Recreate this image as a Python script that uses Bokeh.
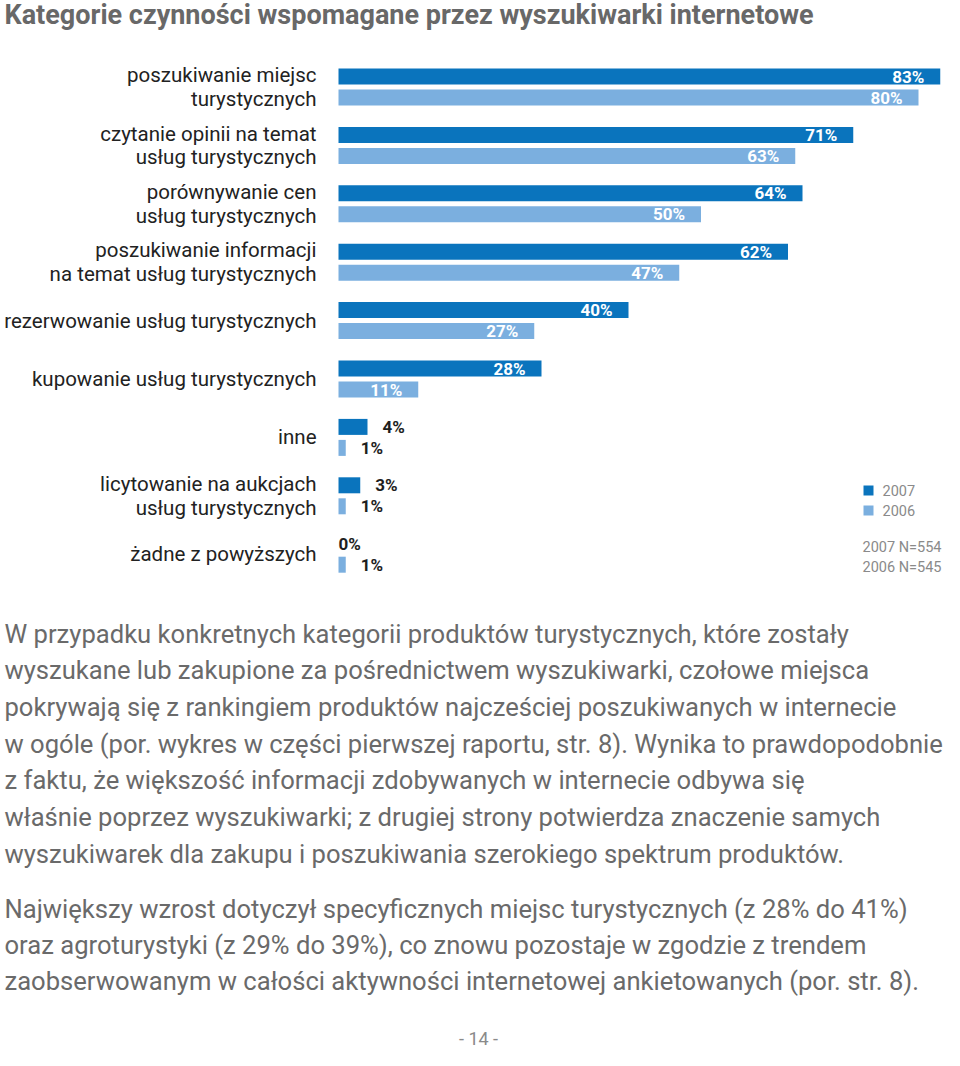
from bokeh.plotting import figure
from bokeh.models import Range1d
from bokeh.core.properties import value
from bokeh.embed import file_html
from bokeh.resources import INLINE

# ---------------- data ----------------
categories = [
    "poszukiwanie miejsc\nturystycznych",
    "czytanie opinii na temat\nusług turystycznych",
    "porównywanie cen\nusług turystycznych",
    "poszukiwanie informacji\nna temat usług turystycznych",
    "rezerwowanie usług turystycznych",
    "kupowanie usług turystycznych",
    "inne",
    "licytowanie na aukcjach\nusług turystycznych",
    "żadne z powyższych",
]
v2007 = [83, 71, 64, 62, 40, 28, 4, 3, 0]
v2006 = [80, 63, 50, 47, 27, 11, 1, 1, 1]
series = ["2007", "2006"]
sample_notes = ["2007  N=554", "2006  N=545"]

title = "Kategorie czynności wspomagane przez wyszukiwarki internetowe"
paragraph1 = [
    "W przypadku konkretnych kategorii produktów turystycznych, które zostały",
    "wyszukane lub zakupione za pośrednictwem wyszukiwarki, czołowe miejsca",
    "pokrywają się z rankingiem produktów najcześciej poszukiwanych w internecie",
    "w ogóle (por. wykres w części pierwszej raportu, str. 8). Wynika to prawdopodobnie",
    "z faktu, że większość informacji zdobywanych w internecie odbywa się",
    "właśnie poprzez wyszukiwarki; z drugiej strony potwierdza znaczenie samych",
    "wyszukiwarek dla zakupu i poszukiwania szerokiego spektrum produktów.",
]
paragraph2 = [
    "Największy wzrost dotyczył specyficznych miejsc turystycznych (z 28% do 41%)",
    "oraz agroturystyki (z 29% do 39%), co znowu pozostaje w zgodzie z trendem",
    "zaobserwowanym w całości aktywności internetowej ankietowanych (por. str. 8).",
]
page_number = "- 14 -"

# ---------------- layout / style ----------------
W, H = 944, 1050
X0 = 338.0      # pixel position of 0 %
S = 7.25        # pixels per percent
TOP = 76.0      # centre of first 2007 bar
ROW = 58.4
DODGE = 21.0
BAR_H = 16
C2007 = "#0a74bd"
C2006 = "#7bafdf"
FONT = "Roboto"
TXT_GRAY = "#6a6a6a"


def px(x):
    return (x - X0) / S


p = figure(width=W, height=H, x_range=Range1d(px(0), px(W)), y_range=Range1d(H, 0),
           x_axis_type=None, y_axis_type=None, output_backend="svg",
           toolbar_location=None, min_border=0)
p.grid.visible = False
p.outline_line_color = None
p.background_fill_color = "white"

n = len(categories)
y07 = [TOP + i * ROW for i in range(n)]
y06 = [y + DODGE for y in y07]
ymid = [y + DODGE / 2 for y in y07]

p.hbar(y=y07, left=0, right=v2007, height=BAR_H, fill_color=C2007, line_color=None)
p.hbar(y=y06, left=0, right=v2006, height=BAR_H, fill_color=C2006, line_color=None)

# category labels
p.text(x=[px(316)] * n, y=ymid, text=categories, text_align="right", text_baseline="middle",
       text_font=value(FONT), text_font_size="20.5px", text_color="#222222", text_line_height=0.98)

# value labels
for ys, vals in ((y07, v2007), (y06, v2006)):
    ins = [i for i, v in enumerate(vals) if v >= 10]
    out = [i for i, v in enumerate(vals) if v < 10]
    p.text(x=[vals[i] - 16 / S for i in ins], y=[ys[i] for i in ins],
           text=[f"{vals[i]}%" for i in ins], text_align="right", text_baseline="middle",
           text_font=value(FONT), text_font_style="bold", text_font_size="17px",
           text_color="white")
    p.text(x=[vals[i] + (15 / S if vals[i] > 0 else 0) for i in out], y=[ys[i] for i in out],
           text=[f"{vals[i]}%" for i in out], text_align="left", text_baseline="middle",
           text_font=value(FONT), text_font_style="bold", text_font_size="17px",
           text_color="#1e1e1e")

# legend
leg_y = [490, 510]
p.rect(x=[px(868)] * 2, y=leg_y, width=10 / S, height=10, fill_color=[C2007, C2006], line_color=None)
p.text(x=[px(882)] * 2, y=leg_y, text=series, text_baseline="middle", text_font=value(FONT),
       text_font_size="14.5px", text_color="#8a8a8a")
p.text(x=[px(862)] * 2, y=[547, 567], text=sample_notes, text_baseline="middle",
       text_font=value(FONT), text_font_size="14.5px", text_color="#8a8a8a")

# title
p.text(x=[px(4)], y=[14], text=[title], text_baseline="middle", text_font=value(FONT),
       text_font_style="bold", text_font_size="27px", text_color="#686868")

# paragraphs
p.text(x=[px(4)] * len(paragraph1), y=[633 + i * 36.7 for i in range(len(paragraph1))],
       text=paragraph1, text_baseline="middle", text_font=value(FONT),
       text_font_size="25.6px", text_color=TXT_GRAY)
p.text(x=[px(4)] * len(paragraph2), y=[908 + i * 36.2 for i in range(len(paragraph2))],
       text=paragraph2, text_baseline="middle", text_font=value(FONT),
       text_font_size="25.6px", text_color=TXT_GRAY)

p.text(x=[px(478)], y=[1038], text=[page_number], text_align="center", text_baseline="middle",
       text_font=value(FONT), text_font_size="18px", text_color="#8a8a8a")

open("out.html", "w").write(file_html(p, INLINE))
